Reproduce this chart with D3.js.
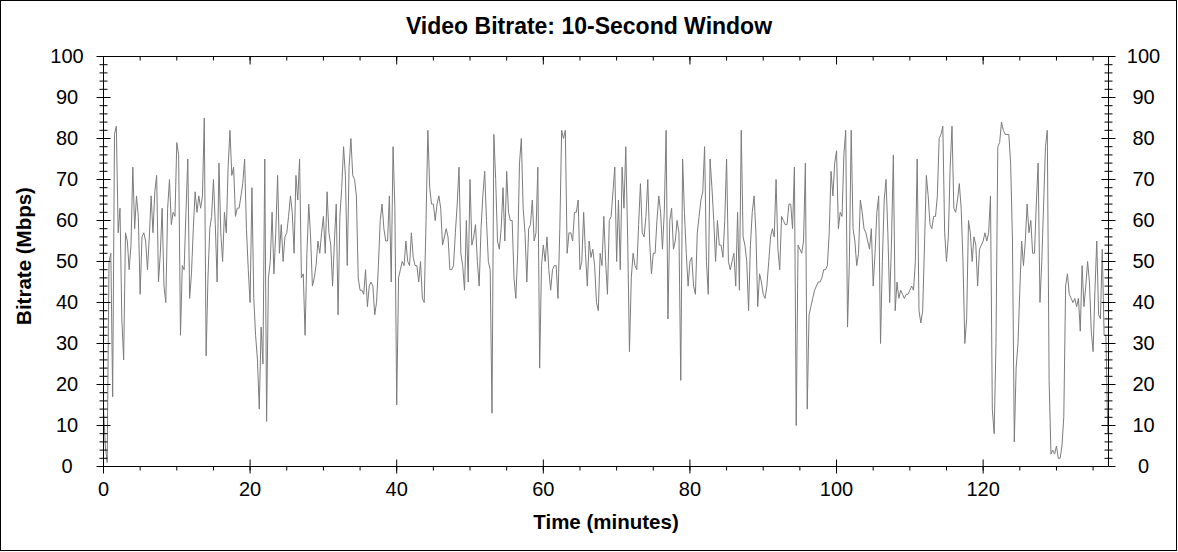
<!DOCTYPE html>
<html>
<head>
<meta charset="utf-8">
<script src="https://d3js.org/d3.v7.min.js"></script>
<style>
body { margin: 0; background: #fff; }
svg { display: block; }
</style>
</head>
<body>
<div id="chart"></div>
<script>
// datos: bitrate (Mbps) en ventana de 10 s, una muestra cada 0.25 min
const sampleStep = 0.25
const bitrate = [
    // 0 - 14.75 min
    14, 5, 1, 50, 52, 17, 81, 83, 57, 63,
    36, 26, 57, 55, 48, 54, 73, 58, 66, 61,
    42, 56, 57, 55, 48, 56, 66, 57, 67, 71,
    45, 52, 63, 44, 40, 63, 70, 59, 62, 61,
    79, 76, 32, 49, 48, 62, 75, 41, 47, 58,
    67, 62, 66, 63, 66, 85, 27, 46, 58, 61,
    // 15 - 30 min
    70, 59, 45, 74, 57, 50, 62, 57, 73, 82,
    71, 73, 61, 63, 63, 66, 69, 75, 58, 48,
    40, 68, 41, 32, 26, 14, 34, 25, 75, 11,
    46, 50, 62, 47, 57, 71, 52, 59, 50, 56,
    57, 61, 66, 62, 52, 71, 65, 75, 46, 47,
    32, 52, 64, 56, 44, 46, 49, 55, 52, 57,
    61,
    // 30.25 - 45.25 min
    52, 67, 57, 54, 44, 55, 64, 37, 61, 68,
    78, 71, 49, 73, 80, 71, 70, 66, 46, 43,
    43, 42, 48, 39, 44, 45, 44, 37, 40, 49,
    60, 64, 58, 55, 55, 66, 45, 78, 63, 15,
    46, 48, 50, 49, 55, 50, 49, 57, 51, 49,
    49, 45, 50, 41, 40, 60, 82, 68, 64, 64,
    60,
    // 45.5 - 60.5 min
    64, 66, 63, 54, 56, 58, 56, 48, 48, 49,
    57, 64, 73, 52, 49, 43, 60, 45, 70, 54,
    56, 59, 50, 44, 58, 66, 72, 60, 50, 48,
    13, 81, 70, 55, 53, 58, 68, 55, 72, 62,
    60, 60, 46, 41, 52, 74, 80, 63, 57, 45,
    58, 59, 65, 55, 57, 73, 24, 49, 54, 50,
    56,
    // 60.75 - 75.75 min
    48, 43, 48, 49, 49, 41, 58, 82, 80, 82,
    52, 57, 57, 55, 62, 62, 65, 48, 50, 62,
    52, 44, 55, 51, 53, 49, 40, 38, 52, 49,
    61, 50, 42, 60, 61, 67, 73, 50, 65, 48,
    73, 63, 78, 56, 28, 46, 52, 49, 48, 59,
    69, 57, 56, 61, 70, 55, 47, 52, 52, 60,
    66,
    // 76 - 91 min
    62, 53, 62, 82, 36, 60, 63, 53, 55, 60,
    57, 21, 75, 62, 52, 44, 50, 51, 44, 42,
    57, 61, 65, 67, 78, 50, 42, 75, 68, 60,
    50, 60, 54, 54, 51, 60, 75, 50, 48, 50,
    52, 44, 62, 43, 82, 56, 54, 50, 38, 54,
    62, 66, 57, 39, 47, 45, 42, 41, 44, 50,
    56,
    // 91.25 - 106.25 min
    58, 56, 70, 53, 48, 61, 60, 59, 59, 64,
    64, 58, 73, 10, 54, 53, 52, 55, 74, 14,
    37, 39, 41, 43, 44, 45, 45, 46, 48, 48,
    49, 57, 72, 66, 74, 77, 58, 62, 61, 76,
    82, 34, 50, 82, 58, 55, 49, 52, 65, 62,
    58, 57, 55, 53, 58, 44, 52, 62, 66, 30,
    50,
    // 106.5 - 121.5 min
    65, 70, 57, 40, 55, 76, 38, 45, 41, 43,
    42, 41, 42, 42, 43, 44, 43, 50, 75, 38,
    35, 38, 54, 71, 66, 59, 58, 61, 61, 66,
    80, 81, 83, 57, 50, 56, 73, 83, 63, 62,
    65, 69, 63, 50, 30, 36, 60, 57, 50, 56,
    54, 44, 53, 54, 55, 57, 55, 57, 66, 14,
    8,
    // 121.75 - 137 min
    30, 78, 79, 84, 82, 81, 81, 81, 74, 55,
    6, 24, 30, 43, 55, 49, 55, 64, 57, 60,
    52, 52, 64, 74, 40, 50, 64, 78, 82, 21,
    3, 4, 3, 5, 2, 2, 5, 12, 44, 47,
    42, 41, 40, 41, 39, 41, 33, 49, 39, 44,
    50, 45, 33, 28, 43, 55, 37, 36, 53, 32,
    32, 8
]

// ejes
const xMax = 137.1
const xTicks = [0, 20, 40, 60, 80, 100, 120]
const xMinorTicks = d3.range(0, 136, 5)
const yTicks = [0, 10, 20, 30, 40, 50, 60, 70, 80, 90, 100]
const yMinorTicks = d3.range(0, 101, 2)

const titleText = "Video Bitrate: 10-Second Window"
const xTitle = "Time (minutes)"
const yTitle = "Bitrate (Mbps)"

const width = 1178
const height = 552
const margin = {top: 56.5, right: 69.5, bottom: 85.5, left: 103.5}
const fontFamily = "'Liberation Sans', Arial, sans-serif"

const svg = d3.select("div#chart").append("svg")
    .attr("width", width)
    .attr("height", height)
    .attr("font-family", fontFamily)

// marco exterior
svg.append("rect")
    .attr("x", 0.5).attr("y", 0.5)
    .attr("width", width - 2).attr("height", height - 2)
    .attr("fill", "#fff").attr("stroke", "#000")

// escalas
const x = d3.scaleLinear().domain([0, xMax]).range([margin.left, width - margin.right])
const y = d3.scaleLinear().domain([0, 100]).range([height - margin.bottom, margin.top])

// línea de datos
const line = d3.line()
    .x((d, i) => x(i * sampleStep))
    .y(d => y(d))

svg.append("path")
    .datum(bitrate)
    .attr("fill", "none")
    .attr("stroke", "#7c7c7c")
    .attr("stroke-width", 1)
    .attr("d", line)

// rectángulo del área del gráfico
svg.append("rect")
    .attr("x", x(0)).attr("y", y(100))
    .attr("width", x(xMax) - x(0)).attr("height", y(0) - y(100))
    .attr("fill", "none").attr("stroke", "#000")

function drawTicks(axis, values, size, transform) {
    const g = svg.append("g")
        .attr("transform", transform)
        .call(axis.tickValues(values).tickSize(size).tickFormat("").offset(0))
    g.select(".domain").remove()
    g.selectAll("line").attr("stroke", "#000")
    return g
}

const leftPos = `translate(${x(0)},0)`
const rightPos = `translate(${x(xMax)},0)`
const bottomPos = `translate(0,${y(0)})`
const topPos = `translate(0,${y(100)})`

// eje Y izquierdo y derecho (marcas cruzadas)
for (const pos of [leftPos, rightPos]) {
    drawTicks(d3.axisLeft(y), yTicks, 7, pos)
    drawTicks(d3.axisRight(y), yTicks, 7, pos)
    drawTicks(d3.axisLeft(y), yMinorTicks, 4, pos)
    drawTicks(d3.axisRight(y), yMinorTicks, 4, pos)
}

// eje X inferior
drawTicks(d3.axisBottom(x), xTicks, 7, bottomPos)
drawTicks(d3.axisTop(x), xTicks, 7, bottomPos)
drawTicks(d3.axisBottom(x), xMinorTicks, 4, bottomPos)

// eje X superior (marcas hacia dentro)
drawTicks(d3.axisBottom(x), xTicks, 8, topPos)
drawTicks(d3.axisBottom(x), xMinorTicks, 4, topPos)

// etiquetas
function styleLabels(g) {
    g.attr("font-family", fontFamily).attr("font-size", 20)
    g.select(".domain").remove()
    g.selectAll("line").remove()
    g.selectAll("text").attr("fill", "#000")
}

const yLabelsLeft = svg.append("g").attr("transform", leftPos)
    .call(d3.axisLeft(y).tickValues(yTicks).tickSize(0).offset(0))
styleLabels(yLabelsLeft)
yLabelsLeft.selectAll("text").attr("x", 67 - x(0)).attr("text-anchor", "middle")

const yLabelsRight = svg.append("g").attr("transform", rightPos)
    .call(d3.axisRight(y).tickValues(yTicks).tickSize(0).offset(0))
styleLabels(yLabelsRight)
yLabelsRight.selectAll("text").attr("x", 1143.5 - x(xMax)).attr("text-anchor", "middle")

const xLabels = svg.append("g").attr("transform", bottomPos)
    .call(d3.axisBottom(x).tickValues(xTicks).tickSize(0).tickPadding(15.5).offset(0))
styleLabels(xLabels)

// títulos
svg.append("text")
    .attr("x", 589).attr("y", 34)
    .attr("text-anchor", "middle")
    .attr("font-size", 23).attr("font-weight", "bold")
    .text(titleText)

svg.append("text")
    .attr("x", (x(0) + x(xMax)) / 2).attr("y", 529)
    .attr("text-anchor", "middle")
    .attr("font-size", 20.5).attr("font-weight", "bold")
    .text(xTitle)

svg.append("text")
    .attr("transform", "translate(31,256) rotate(-90)")
    .attr("text-anchor", "middle")
    .attr("font-size", 20.5).attr("font-weight", "bold")
    .text(yTitle)
</script>
</body>
</html>
